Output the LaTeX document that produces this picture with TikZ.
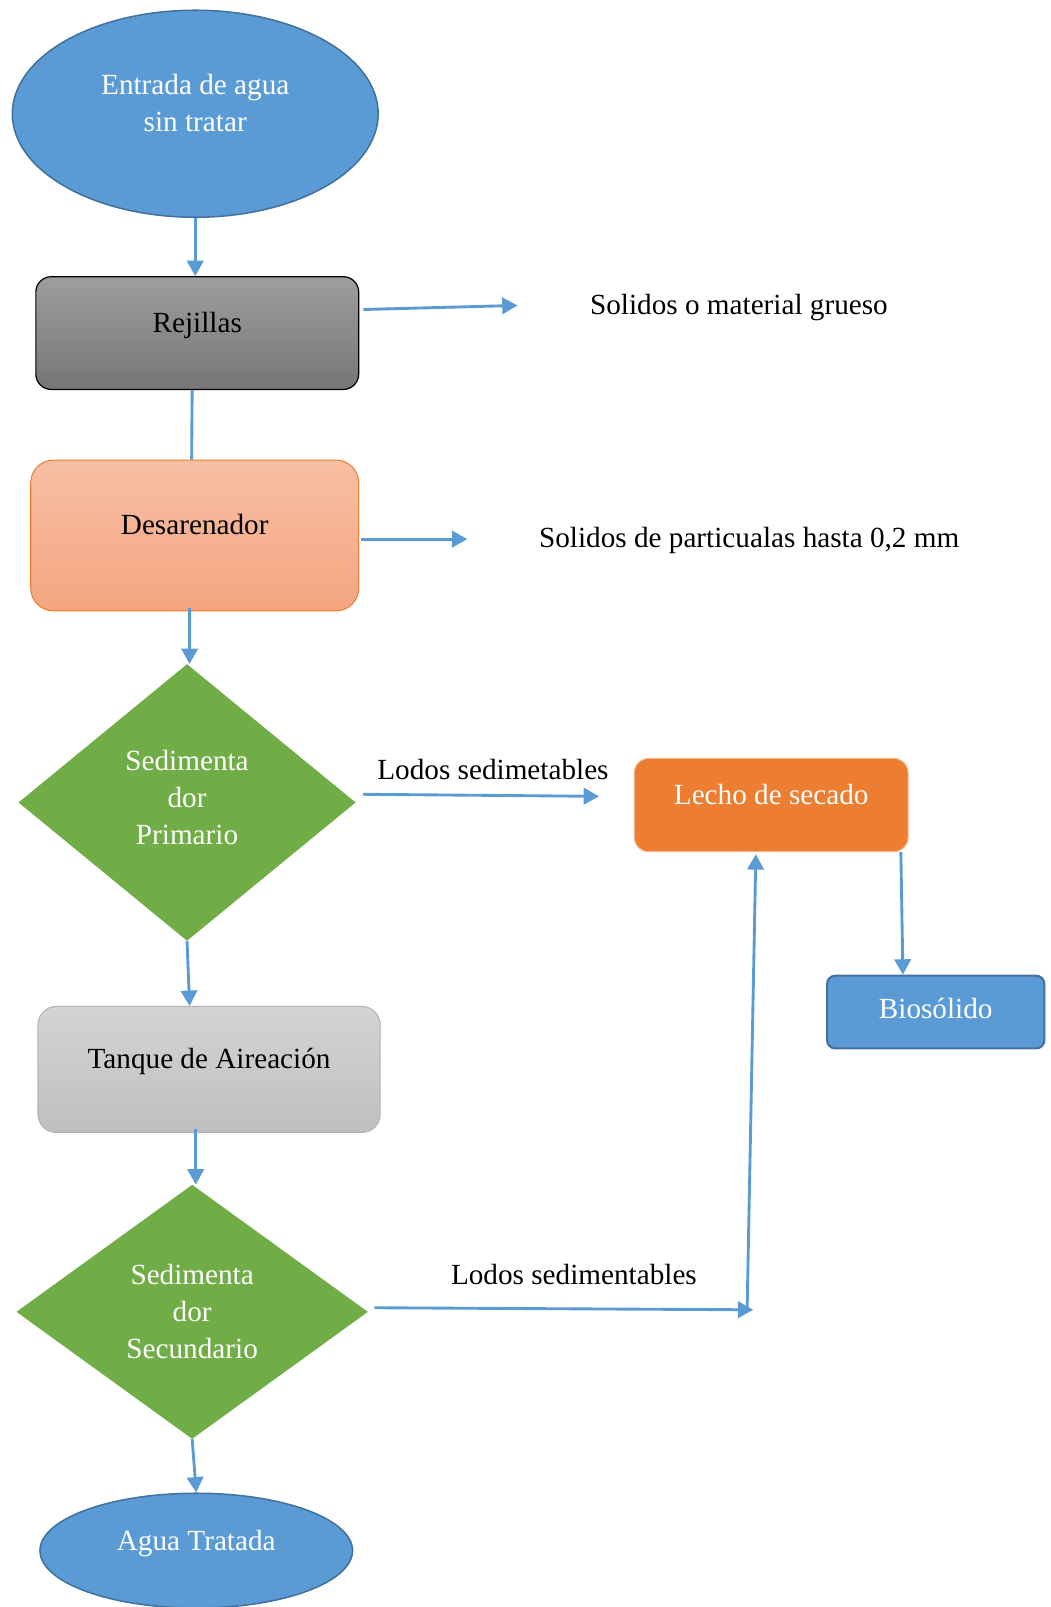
\documentclass[tikz,border=0pt]{standalone}
\usepackage{fontspec}
\setmainfont{Liberation Serif}
\usetikzlibrary{shapes.geometric,arrows.meta,positioning}

\definecolor{azul}{RGB}{91,155,213}
\definecolor{azulosc}{RGB}{65,113,156}
\definecolor{verde}{RGB}{112,173,71}
\definecolor{naranja}{RGB}{237,125,49}
\definecolor{gristop}{RGB}{158,158,158}
\definecolor{grisbot}{RGB}{118,118,118}
\definecolor{salmontop}{RGB}{247,191,164}
\definecolor{salmonbot}{RGB}{244,165,128}
\definecolor{clarotop}{RGB}{212,212,212}
\definecolor{clarobot}{RGB}{191,191,191}

% sube el texto dentro de la caja
\newcommand{\subir}[2]{\raisebox{0pt}[\height][\dimexpr\depth+#1\relax]{#2}}

\begin{document}
\begin{tikzpicture}[x=1pt, y=-1pt, >={Triangle[length=15pt,width=16pt]},
    every node/.style={font=\fontsize{28.5}{36}\selectfont, inner sep=3pt},
    flow/.style={->, draw=azul, line width=2.8pt},
    caja/.style={rectangle, rounded corners=#1},
    subida/.style={text height=20pt, text depth=21pt},
    nota/.style={text height=20pt, text depth=6pt},
    rombo/.style={diamond, fill=verde, text=white, align=center, inner sep=0pt},
    extremo/.style={ellipse, fill=azul, draw=azulosc, line width=1.5pt, text=white}]

    \useasboundingbox (0,0) rectangle (1025,1568);

    % --- columna principal ---
    \node[extremo, minimum width=357pt, minimum height=202pt] (entrada) at (190.5,111)
        {\subir{16pt}{\begin{tabular}{@{}c@{}}Entrada de agua\\sin tratar\end{tabular}}};

    \node[caja=15pt, subida, top color=gristop, bottom color=grisbot, draw=black, line width=1.2pt,
        minimum width=315pt, minimum height=110pt] (rejillas) at (192.5,325) {Rejillas};

    \node[caja=22pt, subida, top color=salmontop, bottom color=salmonbot, draw=naranja, line width=1pt,
        minimum width=320pt, minimum height=147pt] (desarenador) at (190,522.5) {Desarenador};

    \node[rombo, minimum width=329pt, minimum height=270pt] (sedprim) at (182.5,783)
        {\subir{4pt}{\begin{tabular}{@{}c@{}}Sedimenta\\dor\\Primario\end{tabular}}};

    \node[caja=18pt, subida, top color=clarotop, bottom color=clarobot, draw=black!30, line width=1pt,
        minimum width=334pt, minimum height=123pt] (tanque) at (204,1043.5) {Tanque de Aireación};

    \node[rombo, minimum width=343pt, minimum height=248pt] (sedsec) at (187.5,1280)
        {Sedimenta\\dor\\Secundario};

    \node[extremo, subida, minimum width=305pt, minimum height=112pt] (agua) at (191.5,1513)
        {Agua Tratada};

    % --- lodos ---
    \node[caja=14pt, subida, fill=naranja, draw=naranja!55!white, line width=1pt, text=white,
        minimum width=267pt, minimum height=91pt] (lecho) at (752.5,785.5) {Lecho de secado};

    \node[caja=8pt, fill=azul, draw=azulosc, line width=2pt, text=white, text height=20pt, text depth=8pt,
        minimum width=212pt, minimum height=71pt] (bio) at (913,987.5) {Biosólido};

    % --- textos sueltos ---
    \node[nota] (grueso) at (721,300) {Solidos o material grueso};
    \node[nota] (particulas) at (731,527) {Solidos de particualas hasta 0,2 mm};
    \node[nota] (lodosA) at (481,754) {Lodos sedimetables};
    \node[nota] (lodosB) at (560,1246) {Lodos sedimentables};

    \coordinate (haciaGrueso) at (505,298);
    \coordinate (haciaPart) at (456,526);
    \coordinate (codo) at (735,1278);

    % --- flechas ---
    \draw[flow] (entrada.south) -- (entrada.south |- rejillas.north);
    \draw[flow] ([shift={(4,-23)}]rejillas.east) -- (haciaGrueso);
    \draw[draw=azul, line width=2.8pt] ([xshift=-5pt]rejillas.south) -- ([xshift=-3pt]desarenador.north);
    \draw[flow] ([shift={(2,3.5)}]desarenador.east) -- (haciaPart);
    \draw[flow] ([shift={(-5,-3)}]desarenador.south) -- ([xshift=2.5pt]sedprim.north);
    \draw[flow] ([shift={(7,-8)}]sedprim.east) -- ([shift={(-34,-8.5)}]lecho.west);
    \draw[flow] ([xshift=126.5pt]lecho.south) -- ([xshift=-32pt]bio.north);
    \draw[flow] (sedprim.south) -- ([xshift=-19pt]tanque.north);
    \draw[flow] ([shift={(-13,-4)}]tanque.south) -- ([xshift=3.5pt]sedsec.north);
    \draw[flow] ([shift={(6,-4)}]sedsec.east) -- (codo);
    \draw[flow] ([xshift=-6pt]codo) -- ([shift={(-15,2)}]lecho.south);
    \draw[flow] (sedsec.south) -- (agua.north);
\end{tikzpicture}
\end{document}
